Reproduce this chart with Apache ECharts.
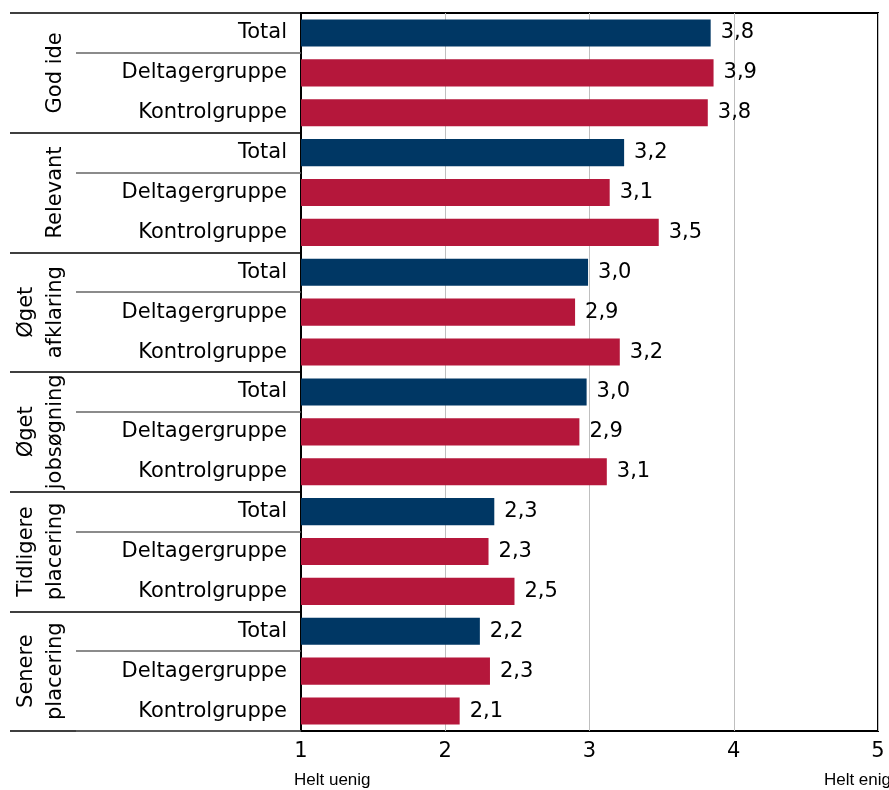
<!DOCTYPE html>
<html>
<head>
<meta charset="utf-8">
<script src="https://cdn.jsdelivr.net/npm/echarts@6/dist/echarts.min.js"></script>
<style>
  html, body { margin: 0; padding: 0; background: #ffffff; }
  #chart { width: 889px; height: 790px; }
</style>
</head>
<body>
<div id="chart"></div>
<script>
  // grupper (vises lodret til venstre)
  var groups = ['God ide', 'Relevant', 'Øget\nafklaring', 'Øget\njobsøgning', 'Tidligere\nplacering', 'Senere\nplacering'];
  var subgroups = ['Total', 'Deltagergruppe', 'Kontrolgruppe'];

  // gennemsnit pr. gruppe: Total, Deltagergruppe, Kontrolgruppe
  var godIde = [3.84, 3.86, 3.82];
  var relevant = [3.24, 3.14, 3.48];
  var afklaring = [2.99, 2.90, 3.21];
  var jobsoegning = [2.98, 2.93, 3.12];
  var tidligere = [2.34, 2.30, 2.48];
  var senere = [2.24, 2.31, 2.10];

  var xTicks = [1, 2, 3, 4, 5];

  var rows = [godIde, relevant, afklaring, jobsoegning, tidligere, senere];
  var categories = [];
  var values = [];
  rows.forEach(function (r) {
    subgroups.forEach(function (s, i) {
      categories.push(s);
      values.push(r[i]);
    });
  });

  var navy = '#003764';
  var red = '#B5173B';
  var font = 'DejaVu Sans';

  var myChart = echarts.init(document.getElementById('chart'));

  myChart.setOption({
    animation: false,
    grid: {
      left: 301,
      right: 11,
      top: 13,
      bottom: 59,
      show: true,
      borderColor: '#000',
      borderWidth: 2,
      backgroundColor: 'transparent'
    },
    xAxis: {
      type: 'value',
      min: xTicks[0],
      max: xTicks[xTicks.length - 1],
      interval: 1,
      axisLine: {show: false},
      axisTick: {show: false},
      splitLine: {lineStyle: {color: '#BFBFBF', width: 1}},
      axisLabel: {
        fontFamily: font,
        fontSize: 21,
        color: '#000',
        margin: 10
      }
    },
    yAxis: [
      {
        // underkategorier + linjer mellem grupper
        type: 'category',
        inverse: true,
        data: categories,
        axisLine: {lineStyle: {color: '#000', width: 2}},
        axisTick: {
          show: true,
          length: 291,
          lineStyle: {color: '#000', width: 1.5},
          interval: function (index) {
            return index % 3 === 0;
          }
        },
        axisLabel: {
          fontFamily: font,
          fontSize: 21,
          color: '#000',
          margin: 14,
          interval: 0
        }
      },
      {
        // linje under "Total"
        type: 'category',
        inverse: true,
        position: 'left',
        data: categories,
        axisLine: {show: false},
        axisTick: {
          show: true,
          length: 225,
          lineStyle: {color: '#666', width: 1.5},
          interval: function (index) {
            return index % 3 === 1;
          }
        },
        axisLabel: {show: false}
      },
      {
        // gruppenavne, lodret
        type: 'category',
        inverse: true,
        position: 'left',
        data: groups,
        axisLine: {show: false},
        axisTick: {show: false},
        axisLabel: {
          interval: 0,
          hideOverlap: false,
          rotate: 90,
          fontFamily: font,
          fontSize: 21,
          lineHeight: 29,
          color: '#000',
          margin: 231,
          align: 'center',
          verticalAlign: 'bottom'
        }
      }
    ],
    series: [
      {
        type: 'bar',
        yAxisIndex: 0,
        data: values,
        barCategoryGap: '32%',
        itemStyle: {
          color: function (params) {
            return params.dataIndex % 3 === 0 ? navy : red;
          }
        },
        label: {
          show: true,
          position: 'right',
          distance: 10,
          fontFamily: font,
          fontSize: 21,
          color: '#000',
          formatter: function (params) {
            return params.value.toFixed(1).replace('.', ',');
          }
        }
      }
    ],
    graphic: [
      {
        type: 'text',
        left: 294,
        top: 772,
        style: {text: 'Helt uenig', font: '17px "Liberation Sans"', fill: '#000'}
      },
      {
        type: 'text',
        right: -2,
        top: 772,
        style: {text: 'Helt enig', font: '17px "Liberation Sans"', fill: '#000'}
      }
    ]
  });
</script>
</body>
</html>
